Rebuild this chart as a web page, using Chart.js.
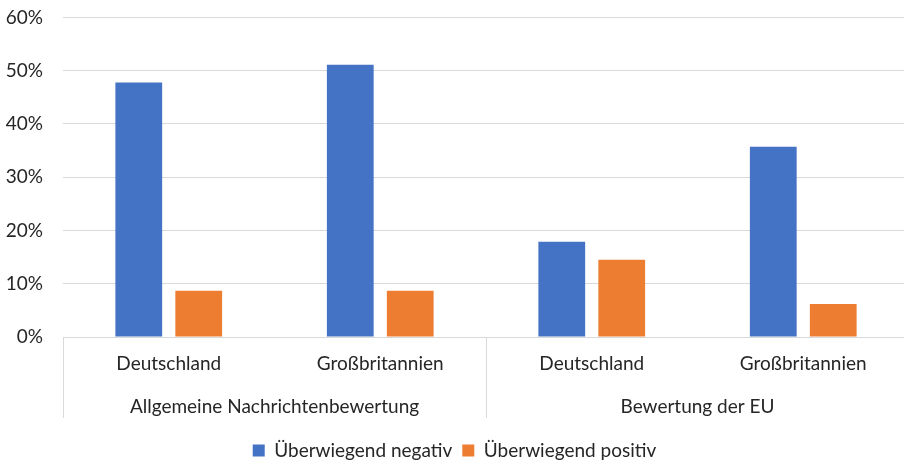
<!DOCTYPE html>
<html><head><meta charset="utf-8">
<script src="https://cdn.jsdelivr.net/npm/chart.js@4"></script>
<style>html,body{margin:0;padding:0;overflow:hidden;background:#fff}#wrap{width:909px;height:475px;margin-top:-14px}</style>
</head><body><div id="wrap"><canvas id="c" width="909" height="475"></canvas></div>
<script>
const groups = ['Allgemeine Nachrichtenbewertung', 'Bewertung der EU'];
const groupSizes = [2, 2];
const categories = ['Deutschland', 'Großbritannien', 'Deutschland', 'Großbritannien'];
const seriesNames = ['Überwiegend negativ', 'Überwiegend positiv'];
const negativ = [47.8, 51.1, 17.9, 35.7];
const positiv = [8.7, 8.7, 14.5, 6.2];
const yMin = 0, yMax = 60, yStep = 10;

const FONT = 'Lato, "Liberation Sans", sans-serif';
const FS = 19;
const TEXT = '#262626';
const GRID = '#d9d9d9';

const groupPlugin = {
  id: 'groupLabels',
  afterDraw(chart) {
    const x = chart.scales.x, ctx = chart.ctx;
    const area = chart.chartArea;
    const half = (x.getPixelForValue(1) - x.getPixelForValue(0)) / 2;
    ctx.save();
    ctx.strokeStyle = GRID; ctx.lineWidth = 1;
    ctx.fillStyle = TEXT;
    ctx.font = FS + 'px ' + FONT;
    ctx.textAlign = 'center'; ctx.textBaseline = 'middle';
    let idx = 0;
    const yTop = area.bottom, yBot = area.bottom + 81;
    groups.forEach((g, gi) => {
      const l = x.getPixelForValue(idx) - half;
      const r = x.getPixelForValue(idx + groupSizes[gi] - 1) + half;
      [l, r].forEach(px => {
        const p = Math.round(px) + 0.5;
        ctx.beginPath(); ctx.moveTo(p, yTop); ctx.lineTo(p, yBot); ctx.stroke();
      });
      ctx.fillText(g, (l + r) / 2, area.bottom + 70);
      idx += groupSizes[gi];
    });
    ctx.restore();
  }
};

new Chart(document.getElementById('c'), {
  type: 'bar',
  data: {
    labels: categories,
    datasets: [
      { label: seriesNames[0], data: negativ, backgroundColor: '#4472c4' },
      { label: seriesNames[1], data: positiv, backgroundColor: '#ed7d31' }
    ]
  },
  options: {
    responsive: false,
    devicePixelRatio: 1,
    animation: false,
    layout: { padding: { top: 0, right: 0, left: 0, bottom: -9 } },
    datasets: { bar: { categoryPercentage: 0.567, barPercentage: 0.78 } },
    scales: {
      x: {
        grid: { display: false },
        border: { display: true, color: GRID },
        ticks: { color: TEXT, font: { family: FONT, size: FS }, padding: 7, maxRotation: 0 },
        afterFit(s) { s.height = 94; }
      },
      y: {
        min: yMin, max: yMax,
        ticks: { stepSize: yStep, color: TEXT, font: { family: FONT, size: FS }, padding: 20,
                 callback: v => v + '%' },
        grid: { color: GRID, drawTicks: false },
        border: { display: false },
        afterFit(s) { s.width = 63; }
      }
    },
    plugins: {
      legend: {
        position: 'bottom',
        labels: { boxWidth: 12, boxHeight: 12, color: TEXT, font: { family: FONT, size: FS }, padding: 10 }
      },
      tooltip: { enabled: false }
    }
  },
  plugins: [groupPlugin]
});
</script></body></html>
